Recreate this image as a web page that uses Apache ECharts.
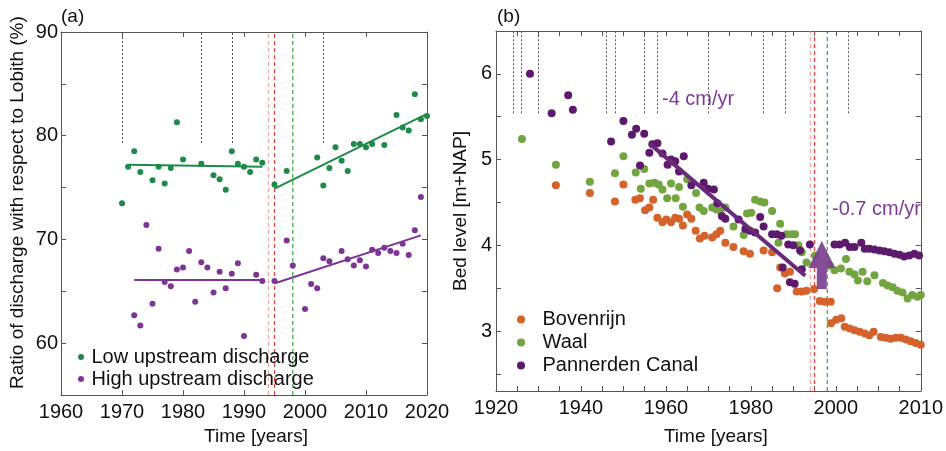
<!DOCTYPE html>
<html><head><meta charset="utf-8">
<script src="https://cdn.jsdelivr.net/npm/echarts@6/dist/echarts.min.js"></script>
<style>html,body{margin:0;padding:0;background:#fff}#c{width:946px;height:451px}</style>
</head><body><div id="c"></div>
<script>
// ---------- Panel (a) data ----------
const lowYears = [1970,1971,1972,1973,1975,1976,1977,1978,1979,1980,1983,1985,1986,1987,1988,1989,1990,1991,1992,1993,1995,1997,2002,2003,2004,2005,2006,2007,2008,2009,2010,2011,2013,2015,2016,2017,2018,2019,2020];
const lowValues = [73.5,77.0,78.5,76.5,75.7,77.0,75.4,76.9,81.3,77.7,77.3,76.2,75.8,74.8,78.5,77.3,77.0,76.5,77.7,77.4,75.3,76.6,77.9,75.2,76.9,78.9,77.6,76.6,79.2,79.2,78.9,79.2,79.1,82.0,80.8,80.5,84.0,81.6,81.9];
const highYears = [1972,1973,1974,1975,1976,1977,1978,1979,1980,1981,1982,1983,1984,1985,1986,1987,1988,1989,1990,1992,1993,1995,1997,1998,2000,2001,2002,2003,2004,2006,2007,2008,2009,2010,2011,2012,2013,2014,2015,2016,2017,2018,2019];
const highValues = [62.7,61.7,71.4,63.8,69.1,65.9,65.5,67.1,67.3,68.9,64.0,67.8,67.3,64.9,66.9,65.3,66.7,67.7,60.7,66.6,66.0,66.0,69.9,67.5,63.3,65.7,65.3,68.2,67.9,68.9,68.1,67.5,68.0,67.4,69.0,68.7,69.2,68.9,68.7,69.6,68.5,70.9,74.1];
const lowTrendA = [[1971,77.2],[1993,77.0]];
const lowTrendB = [[1995,74.9],[2020,82.1]];
const highTrendA = [[1972,66.1],[1993,66.1]];
const highTrendB = [[1995.2,65.8],[2019,70.4]];
const eventYearsA = [1970,1983,1988,2003];

// ---------- Panel (b) data ----------
const bovYears = [1934.1,1942.1,1948.0,1950.0,1952.8,1953.9,1955.1,1956.1,1957.0,1958.0,1959.2,1960.1,1961.2,1962.2,1963.1,1964.0,1965.0,1966.0,1967.0,1968.0,1969.1,1970.9,1971.9,1972.8,1974.0,1975.9,1978.3,1979.8,1983.0,1985.0,1986.2,1986.9,1988.0,1989.2,1990.8,1992.0,1993.1,1994.9,1996.2,1997.4,1998.8,1998.9,2000.1,2001.3,2002.1,2003.3,2004.4,2005.6,2006.8,2007.9,2008.9,2010.6,2011.8,2012.9,2014.1,2015.3,2016.5,2017.6,2018.8,2020.0];
const bovValues = [4.70,4.61,4.51,4.71,4.53,4.55,4.41,4.44,4.53,4.32,4.27,4.30,4.27,4.32,4.31,4.23,4.36,4.31,4.17,4.08,4.11,4.09,4.13,4.17,4.03,3.98,3.93,3.90,3.94,3.92,3.50,3.74,3.67,3.69,3.46,3.46,3.47,3.49,3.35,3.34,3.34,3.09,3.13,3.15,3.05,3.03,3.01,2.99,2.97,2.95,2.99,2.93,2.92,2.91,2.92,2.92,2.90,2.88,2.86,2.84];
const waalYears = [1926.1,1934.1,1942.1,1948.0,1950.0,1952.9,1954.1,1954.9,1956.1,1957.3,1958.3,1959.2,1960.3,1961.2,1962.3,1963.1,1964.0,1965.0,1967.1,1967.9,1968.9,1970.9,1971.8,1972.8,1974.0,1975.9,1978.3,1979.1,1980.1,1981.0,1982.2,1983.2,1985.0,1986.5,1986.9,1988.4,1989.6,1990.4,1991.2,1992.0,1993.1,1995.1,1998.6,1999.7,2001.2,2002.4,2003.2,2004.4,2005.2,2006.3,2007.4,2009.1,2011.1,2012.2,2013.4,2014.5,2015.7,2016.9,2018.0,2019.2,2020.0];
const waalValues = [5.24,4.94,4.74,4.84,5.04,4.85,4.66,4.89,4.72,4.73,4.71,4.65,4.55,4.72,4.55,4.68,4.45,4.77,4.61,4.44,4.40,4.44,4.42,4.40,4.44,4.22,4.12,4.37,4.38,4.53,4.51,4.50,4.40,4.03,4.25,4.13,4.13,4.13,4.00,3.92,3.80,3.88,3.76,3.71,3.73,3.84,3.69,3.66,3.59,3.69,3.58,3.65,3.56,3.53,3.51,3.47,3.45,3.38,3.42,3.40,3.42];
const panYears = [1928.0,1933.1,1937.0,1938.1,1947.1,1950.0,1952.0,1953.0,1953.9,1954.9,1956.1,1956.8,1958.0,1959.2,1960.4,1961.2,1962.2,1963.1,1964.2,1966.0,1968.9,1969.9,1971.3,1972.1,1973.2,1974.0,1977.1,1978.7,1979.8,1981.0,1982.2,1983.0,1985.0,1986.1,1987.2,1987.5,1988.8,1989.2,1990.0,1990.3,1991.6,1992.0,1993.9,1999.7,2000.9,2002.2,2003.3,2004.4,2006.0,2006.8,2007.9,2009.1,2010.3,2011.4,2012.6,2013.8,2015.0,2016.1,2017.3,2018.5,2019.6];
const panValues = [6.00,5.54,5.75,5.58,5.21,5.45,5.29,5.36,4.93,5.30,5.08,5.18,5.19,5.07,4.94,5.00,4.98,4.86,5.04,4.70,4.73,4.66,4.65,4.49,4.34,4.31,4.30,4.19,4.17,4.15,4.33,4.22,4.13,4.13,4.11,3.74,4.01,3.57,4.00,3.55,3.94,3.72,4.01,4.01,4.01,4.03,3.98,3.98,4.03,3.96,3.96,3.95,3.94,3.93,3.92,3.90,3.89,3.87,3.88,3.90,3.88];
const panTrend = [[1956.3,5.18],[1992.8,3.645]];
const arrowYear = [1996.7];
const arrowFrom = [3.49];
const arrowTo = [4.05];
const eventYearsB = [1924,1926,1930,1946,1948,1955,1958,1970,1983,1988,2003];
const regimeYears = [1994,1995,1998];
const yTicksB = [2.5,3,3.5,4,4.5,5,5.5,6];
const yLabelsB = [3,4,5,6];

const FONT = 'Liberation Sans, Arial, sans-serif';
const C = {lowG:'#1d8a47', highP:'#7d3494', bov:'#d4622a', waal:'#72a540', pan:'#5d1a6c', trendB:'#6a2a7c', arrow:'#7b3f8f', note:'#7e3a96'};
const regimeColors = ['#f4a6a6','#e3403a','#2fa83c'];
const zip = (a,b) => a.map((v,i)=>[v,b[i]]);

function axis(extra){
  return Object.assign({
    type:'value',
    axisLine:{show:true,onZero:false,lineStyle:{color:'#555',width:1}},
    axisTick:{show:true,inside:true,length:5,lineStyle:{color:'#555',width:1}},
    splitLine:{show:false},
    axisLabel:{show:false},
  }, extra);
}
const tickLabel = (extra) => Object.assign({show:true,fontSize:20,color:'#111',fontFamily:FONT,showMinLabel:true,showMaxLabel:true}, extra);
const nameStyle = (pad) => ({fontSize:19,color:'#111',fontFamily:FONT,padding:pad});

function vlineSeries(xi, yi, years, ev0, ev1, full0, full1){
  const out = [{type:'lines',coordinateSystem:'cartesian2d',xAxisIndex:xi,yAxisIndex:yi,silent:true,z:2,
    lineStyle:{type:[2,2],color:'#555',width:1,opacity:1},
    data:years.map(y=>({coords:[[y,ev0],[y,ev1]]}))}];
  regimeYears.forEach((y,i)=>{
    out.push({type:'line',xAxisIndex:xi,yAxisIndex:yi,silent:true,z:2,showSymbol:false,
      itemStyle:{color:regimeColors[i]},
      lineStyle:{type:[4,3],color:regimeColors[i],width:1.2,opacity:1},
      data:[[y,full0],[y,full1]]});
  });
  return out;
}

function renderArrow(params, api){
  const top = api.coord([api.value(0), api.value(2)]);
  const bot = api.coord([api.value(0), api.value(1)]);
  const x = top[0], shaft = 5, head = 13.5, hh = 27;
  return {
    type:'polygon',
    shape:{points:[[x-shaft,bot[1]],[x-shaft,top[1]+hh],[x-head,top[1]+hh],[x,top[1]],[x+head,top[1]+hh],[x+shaft,top[1]+hh],[x+shaft,bot[1]]]},
    style:{fill:C.arrow,opacity:0.92}
  };
}

const legendText = (lh) => ({fontSize:20,lineHeight:lh,color:'#111',fontFamily:FONT});

const option = {
  animation:false,
  textStyle:{fontFamily:FONT},
  grid:[
    {left:61,top:32,width:366,height:364},
    {left:496,top:31,width:427,height:362}
  ],
  xAxis:[
    axis({gridIndex:0,position:'bottom',min:1960,max:2020,interval:10,
      axisLabel:tickLabel({margin:7,formatter:v=>String(v)}),
      name:'Time [years]',nameLocation:'middle',nameGap:30,nameTextStyle:nameStyle([0,0,0,24])}),
    axis({gridIndex:0,position:'top',min:1960,max:2020,interval:10}),
    axis({gridIndex:1,position:'bottom',min:1920,max:2020,interval:5,
      axisLabel:tickLabel({margin:7,formatter:v=> v%20===0 ? (v===2020?'2010':String(v)) : ''}),
      name:'Time [years]',nameLocation:'middle',nameGap:36,nameTextStyle:nameStyle([0,0,0,15])}),
    axis({gridIndex:1,position:'top',min:1920,max:2020,interval:5})
  ],
  yAxis:[
    axis({gridIndex:0,position:'left',min:55,max:90,interval:5,
      axisLabel:tickLabel({margin:3,formatter:v=> v%10===0 ? String(v) : ''}),
      name:'Ratio of discharge with respect to Lobith (%)',nameLocation:'middle',nameGap:34,nameTextStyle:nameStyle([0,0,0,22])}),
    axis({gridIndex:0,position:'right',min:55,max:90,interval:5}),
    axis({gridIndex:1,position:'left',min:2.3,max:6.5,
      axisTick:{show:true,inside:true,length:5,customValues:yTicksB,lineStyle:{color:'#555',width:1}},
      axisLabel:tickLabel({margin:4,customValues:yLabelsB}),
      name:'Bed level [m+NAP]',nameLocation:'middle',nameGap:26,nameTextStyle:nameStyle([0,0,0,0])}),
    axis({gridIndex:1,position:'right',min:2.3,max:6.5,
      axisTick:{show:true,inside:true,length:5,customValues:yTicksB,lineStyle:{color:'#555',width:1}}})
  ],
  legend:[
    {data:['Low upstream discharge','High upstream discharge'],orient:'vertical',left:78,top:346,
     itemWidth:11,itemHeight:6,itemGap:0,padding:0,icon:'circle',selectedMode:false,textStyle:legendText(22)},
    {data:['Bovenrijn','Waal','Pannerden Canal'],orient:'vertical',left:517,top:308,
     itemWidth:33,itemHeight:8,itemGap:0,padding:0,icon:'circle',selectedMode:false,textStyle:legendText(23)}
  ],
  graphic:[
    {type:'text',left:61,top:7,style:{text:'(a)',fontSize:19,fill:'#111',fontFamily:FONT}},
    {type:'text',left:497,top:7,style:{text:'(b)',fontSize:19,fill:'#111',fontFamily:FONT}},
    {type:'text',left:662,top:89,z:10,style:{text:'-4 cm/yr',fontSize:20,fill:C.note,fontFamily:FONT}},
    {type:'text',left:832,top:199,z:10,style:{text:'-0.7 cm/yr',fontSize:20,fill:C.note,fontFamily:FONT}}
  ],
  series:[
    ...vlineSeries(0,0,eventYearsA,79.3,90,55,90),
    ...vlineSeries(2,2,eventYearsB,5.54,6.5,2.3,6.5),
    {name:'Low upstream discharge',type:'scatter',xAxisIndex:0,yAxisIndex:0,symbolSize:6,
     itemStyle:{color:C.lowG,opacity:1},data:zip(lowYears,lowValues),z:3},
    {name:'High upstream discharge',type:'scatter',xAxisIndex:0,yAxisIndex:0,symbolSize:6,
     itemStyle:{color:C.highP,opacity:1},data:zip(highYears,highValues),z:3},
    {type:'line',xAxisIndex:0,yAxisIndex:0,data:lowTrendA,showSymbol:false,lineStyle:{color:C.lowG,width:2},z:4},
    {type:'line',xAxisIndex:0,yAxisIndex:0,data:lowTrendB,showSymbol:false,lineStyle:{color:C.lowG,width:2},z:4},
    {type:'line',xAxisIndex:0,yAxisIndex:0,data:highTrendA,showSymbol:false,lineStyle:{color:C.highP,width:2},z:4},
    {type:'line',xAxisIndex:0,yAxisIndex:0,data:highTrendB,showSymbol:false,lineStyle:{color:C.highP,width:2},z:4},

    {name:'Bovenrijn',type:'scatter',xAxisIndex:2,yAxisIndex:2,symbolSize:8,
     itemStyle:{color:C.bov,opacity:1},data:zip(bovYears,bovValues),z:3},
    {name:'Waal',type:'scatter',xAxisIndex:2,yAxisIndex:2,symbolSize:8,
     itemStyle:{color:C.waal,opacity:1},data:zip(waalYears,waalValues),z:3},
    {name:'Pannerden Canal',type:'scatter',xAxisIndex:2,yAxisIndex:2,symbolSize:8,
     itemStyle:{color:C.pan,opacity:1},data:zip(panYears,panValues),z:3},
    {type:'line',xAxisIndex:2,yAxisIndex:2,data:panTrend,showSymbol:false,lineStyle:{color:C.trendB,width:4},z:5},
    {type:'custom',xAxisIndex:2,yAxisIndex:2,renderItem:renderArrow,silent:true,z:6,
     data:arrowYear.map((y,i)=>[y,arrowFrom[i],arrowTo[i]])}
  ]
};
const chart = echarts.init(document.getElementById('c'),null,{renderer:'canvas'});
chart.setOption(option);
</script></body></html>
